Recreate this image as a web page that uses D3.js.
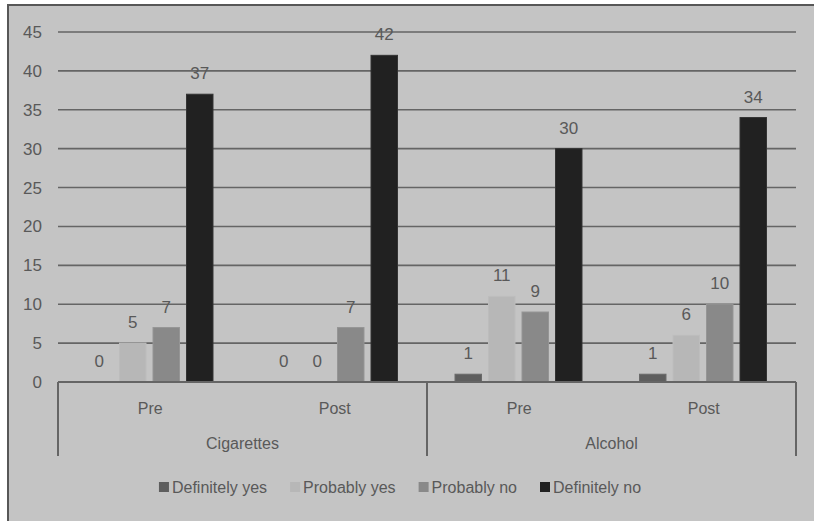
<!DOCTYPE html>
<html>
<head>
<meta charset="utf-8">
<script src="https://cdn.jsdelivr.net/npm/d3@7/dist/d3.min.js"></script>
<style>
  html, body { margin: 0; padding: 0; background: #ffffff; overflow: hidden; }
  svg { display: block; overflow: hidden; }
  text { font-family: "Liberation Sans", Arial, sans-serif; fill: #595959; }
</style>
</head>
<body>
<svg id="chart" width="814" height="521"></svg>
<script>
// Survey responses by substance and time point
const substances = ["Cigarettes", "Alcohol"];
const timepoints = ["Pre", "Post"];
const series = ["Definitely yes", "Probably yes", "Probably no", "Definitely no"];
const definitelyYes = [0, 0, 1, 1];
const probablyYes   = [5, 0, 11, 6];
const probablyNo    = [7, 7, 9, 10];
const definitelyNo  = [37, 42, 30, 34];
const yTicks = [0, 5, 10, 15, 20, 25, 30, 35, 40, 45];
const seriesColors = ["#5e5e5e", "#b7b7b7", "#898989", "#212121"];
const seriesStrokes = ["#6a6a6a", "#bdbdbd", "#959595", "#333333"];

const groups = [];
substances.forEach(s => timepoints.forEach(t => groups.push({ substance: s, time: t, key: s + "|" + t })));
const valuesBySeries = [definitelyYes, probablyYes, probablyNo, definitelyNo];

const svg = d3.select("#chart");

// chart area background, with its frame running off the right and bottom edges
svg.append("rect")
  .attr("x", 8).attr("y", 5)
  .attr("width", 806).attr("height", 516)
  .attr("fill", "#c4c4c4");
svg.append("path")
  .attr("d", "M8,521 V5 H814")
  .attr("fill", "none")
  .attr("stroke", "#575757").attr("stroke-width", 2);

const plotLeft = 58, plotRight = 796, plotTop = 32, plotBottom = 382;

const y = d3.scaleLinear().domain([0, 45]).range([plotBottom, plotTop]);
const x0 = d3.scaleBand().domain(groups.map(g => g.key)).range([plotLeft, plotRight]).padding(0);
const x1 = d3.scaleBand().domain(series)
  .range([24.5, x0.bandwidth() - 26]).paddingInner(0.21).paddingOuter(0.105);

// horizontal gridlines
svg.append("g").selectAll("line")
  .data(yTicks.filter(v => v > 0))
  .join("line")
  .attr("x1", plotLeft).attr("x2", plotRight)
  .attr("y1", d => y(d)).attr("y2", d => y(d))
  .attr("stroke", "#656565").attr("stroke-width", 1.6);

// y axis labels
const yAxis = d3.axisLeft(y).tickValues(yTicks).tickSize(0).tickPadding(0);
const yg = svg.append("g").attr("transform", `translate(42,0)`).call(yAxis);
yg.select(".domain").remove();
yg.selectAll("text")
  .attr("font-size", 17)
  .attr("fill", "#595959")
  .style("font-family", '"Liberation Sans", Arial, sans-serif');

// bars
const bars = [];
groups.forEach((g, gi) => series.forEach((s, si) => bars.push({ g, s, si, v: valuesBySeries[si][gi] })));

svg.append("g").selectAll("rect")
  .data(bars)
  .join("rect")
  .attr("x", d => x0(d.g.key) + x1(d.s))
  .attr("width", x1.bandwidth())
  .attr("y", d => y(d.v))
  .attr("height", d => y(0) - y(d.v))
  .attr("fill", d => seriesColors[d.si])
  .attr("stroke", d => d.v > 0 ? seriesStrokes[d.si] : "none")
  .attr("stroke-width", 1);

// value labels
svg.append("g").selectAll("text")
  .data(bars)
  .join("text")
  .attr("x", d => x0(d.g.key) + x1(d.s) + x1.bandwidth() / 2)
  .attr("y", d => y(d.v) - 15)
  .attr("text-anchor", "middle")
  .attr("font-size", 17)
  .text(d => d.v);

// category axis baseline
svg.append("line")
  .attr("x1", plotLeft).attr("x2", plotRight)
  .attr("y1", plotBottom).attr("y2", plotBottom)
  .attr("stroke", "#656565").attr("stroke-width", 2);

// separators between substances
const sepXs = [plotLeft, x0(groups[2].key), plotRight];
svg.append("g").selectAll("line")
  .data(sepXs)
  .join("line")
  .attr("x1", d => d).attr("x2", d => d)
  .attr("y1", plotBottom).attr("y2", 456)
  .attr("stroke", "#656565").attr("stroke-width", 2);

// time point labels
svg.append("g").selectAll("text")
  .data(groups)
  .join("text")
  .attr("x", d => x0(d.key) + x0.bandwidth() / 2)
  .attr("y", 408)
  .attr("dominant-baseline", "central")
  .attr("text-anchor", "middle")
  .attr("font-size", 16)
  .text(d => d.time);

// substance labels
svg.append("g").selectAll("text")
  .data(substances)
  .join("text")
  .attr("x", (d, i) => x0(groups[i * 2].key) + x0.bandwidth())
  .attr("y", 443)
  .attr("dominant-baseline", "central")
  .attr("text-anchor", "middle")
  .attr("font-size", 16)
  .text(d => d);

// legend
const legend = svg.append("g");
let cx = 0;
series.forEach((s, i) => {
  const item = legend.append("g").attr("transform", `translate(${cx},0)`);
  item.append("rect").attr("x", 0).attr("y", -5).attr("width", 10).attr("height", 10)
    .attr("fill", seriesColors[i]);
  const t = item.append("text").attr("x", 13).attr("y", 0)
    .attr("dominant-baseline", "central")
    .attr("font-size", 16)
    .text(s);
  cx += 13 + t.node().getComputedTextLength() + 23;
});
const legendWidth = cx - 23;
legend.attr("transform", `translate(${400 - legendWidth / 2},487)`);
</script>
</body>
</html>
